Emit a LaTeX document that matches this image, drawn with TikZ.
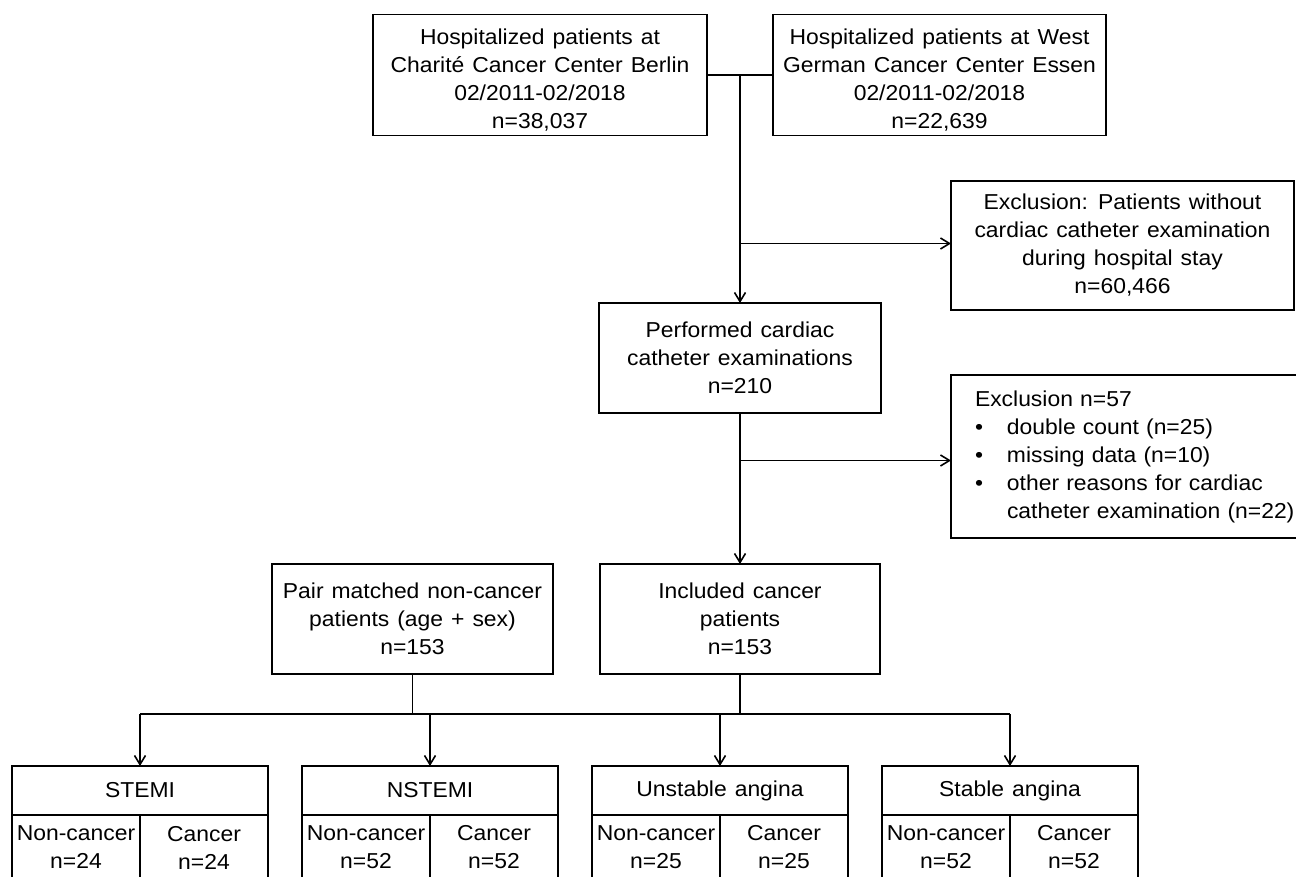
\documentclass[tikz,border=0pt]{standalone}
\usepackage{fontspec}
\setmainfont{Liberation Sans}[FakeStretch=1.06]
\usetikzlibrary{arrows.meta,positioning}
\newcommand{\exbullet}{\makebox[16pt][l]{\textbullet}}

\begin{document}
\begin{tikzpicture}[
  x=0.5pt, y=-0.5pt, line width=0.8pt,
  every node/.style={font={\fontsize{10.8pt}{14pt}\selectfont\spaceskip=4pt plus 1pt minus 1pt}},
  box/.style={draw, align=center, inner sep=2pt, outer sep=0pt},
  head/.style={box, minimum width=128pt, minimum height=24.5pt},
  cell/.style={box, minimum width=64pt, minimum height=32.5pt, inner sep=1pt},
  arr/.style={-{Straight Barb[length=4.5pt,width=5.5pt]}}
]
\useasboundingbox (0,0) rectangle (1296,877);
\clip (0,0) rectangle (1296,877);

% source cohorts
\node[box, minimum width=167pt, minimum height=60pt] (berlin) at (540,75) {\rule{0pt}{13pt}Hospitalized patients at\\Charité Cancer Center Berlin\\02/2011-02/2018\\n=38,037};
\node[box, minimum width=166.5pt, minimum height=60pt, right=33pt of berlin] (essen) {\rule{0pt}{13pt}Hospitalized patients at West\\German Cancer Center Essen\\02/2011-02/2018\\n=22,639};

% screening
\node[box, minimum width=141pt, minimum height=55pt] (performed) at (740,358) {Performed cardiac\\catheter examinations\\n=210};
\node[box, minimum width=171.5pt, minimum height=64.5pt] (nocath) at (1122.5,245.5) {Exclusion: Patients without\\cardiac catheter examination\\during hospital stay\\n=60,466};
\node[box, anchor=west, align=left, text width=165pt, inner xsep=12pt, minimum height=81.5pt] (excluded) at (951,456.5) {Exclusion n=57\\\exbullet double count (n=25)\\\exbullet missing data (n=10)\\\exbullet other reasons for cardiac\\\hspace*{16pt}catheter examination (n=22)};

% study groups
\node[box, minimum width=140pt, minimum height=55pt] (included) at (740,619) {Included cancer\\patients\\n=153};
\node[box, minimum width=140.5pt, minimum height=55pt, left=23.5pt of included] (matched) {Pair matched non-cancer\\patients (age + sex)\\n=153};

% diagnoses
\node[head] (stemi) at (140,790.5) {STEMI};
\node[head, right=17pt of stemi] (nstemi) {NSTEMI};
\node[head, right=17pt of nstemi] (unstable) {Unstable angina};
\node[head, right=17pt of unstable] (stable) {Stable angina};
\node[cell, anchor=north west] (stemi-non) at (stemi.south west) {Non-cancer\\n=24};
\node[cell, anchor=north east] (stemi-can) at (stemi.south east) {Cancer\\n=24};
\node[cell, anchor=north west] (nstemi-non) at (nstemi.south west) {Non-cancer\\n=52};
\node[cell, anchor=north east] (nstemi-can) at (nstemi.south east) {Cancer\\n=52};
\node[cell, anchor=north west] (unstable-non) at (unstable.south west) {Non-cancer\\n=25};
\node[cell, anchor=north east] (unstable-can) at (unstable.south east) {Cancer\\n=25};
\node[cell, anchor=north west] (stable-non) at (stable.south west) {Non-cancer\\n=52};
\node[cell, anchor=north east] (stable-can) at (stable.south east) {Cancer\\n=52};

% connectors
\draw (berlin) -- (essen);
\draw[arr] (berlin.east -| performed) -- (performed);
\draw[arr] ([yshift=1pt]nocath.west -| performed) -- ([yshift=1pt]nocath.west);
\draw[arr] ([yshift=-2pt]excluded.west -| performed) -- ([yshift=-2pt]excluded.west);
\draw[arr] (performed) -- (included);
\coordinate (bus) at (0,714);
\draw (matched) -- (matched |- bus);
\draw (included) -- (included |- bus);
\draw (stemi |- bus) -- (stable |- bus);
\draw[arr] (stemi |- bus) -- (stemi);
\draw[arr] (nstemi |- bus) -- (nstemi);
\draw[arr] (unstable |- bus) -- (unstable);
\draw[arr] (stable |- bus) -- (stable);
\end{tikzpicture}
\end{document}
